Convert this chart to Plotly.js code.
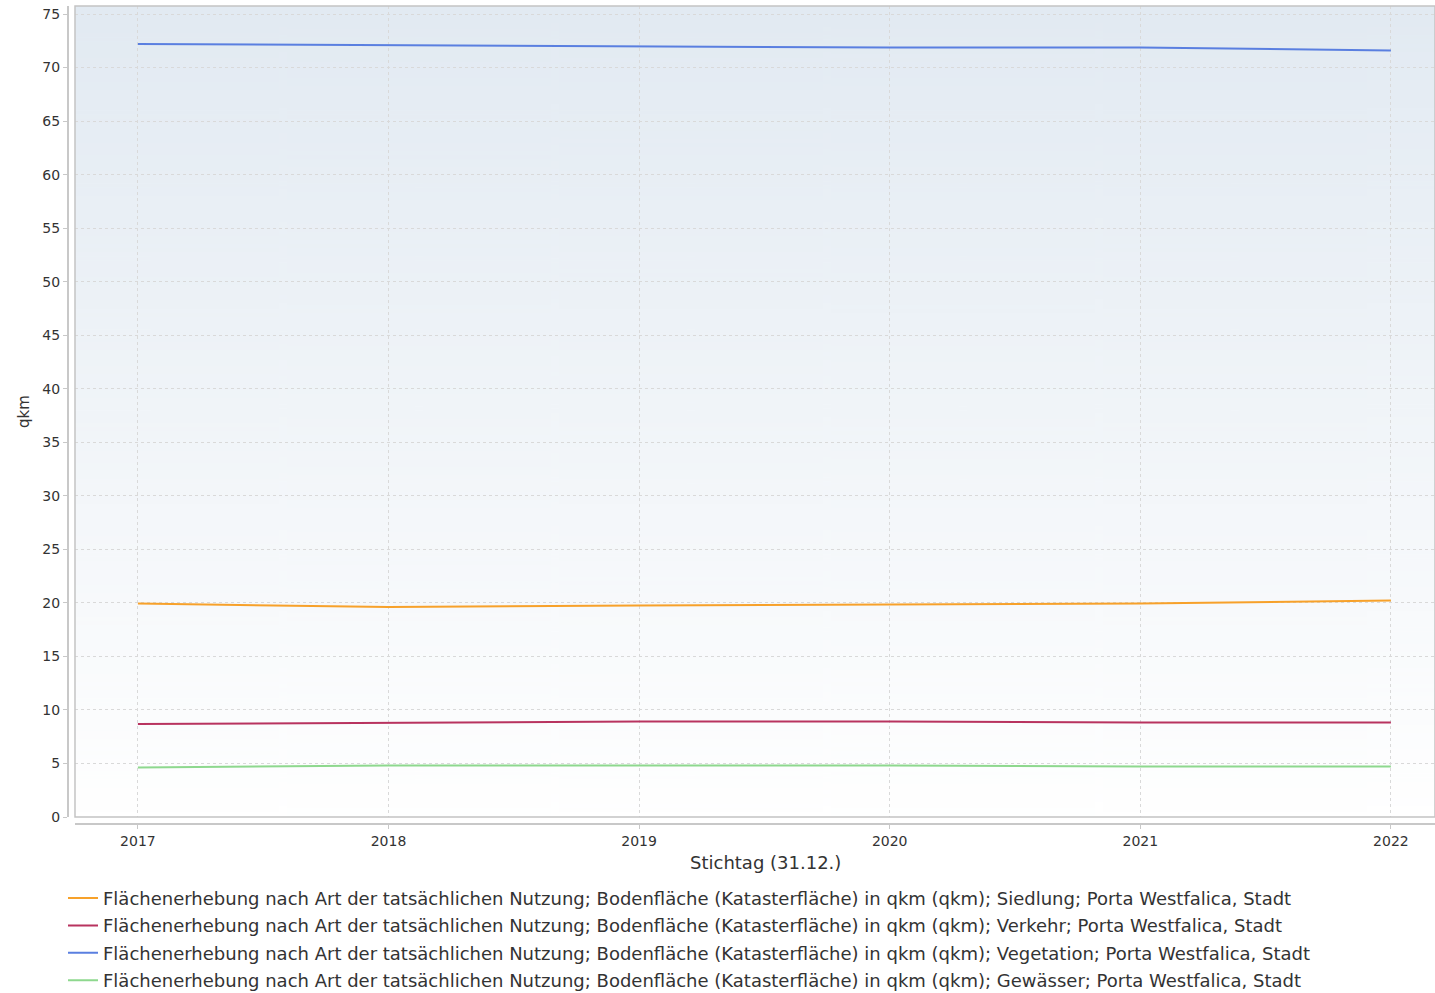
<!DOCTYPE html>
<html>
<head>
<meta charset="utf-8">
<script src="https://cdn.plot.ly/plotly-3.0.1.min.js"></script>
<style>
html,body{margin:0;padding:0;background:#fff;}
#chart{width:1435px;height:993px;}
</style>
</head>
<body>
<div id="chart"></div>
<script>
const years = [2017, 2018, 2019, 2020, 2021, 2022];
const siedlung = [19.94, 19.61, 19.75, 19.85, 19.94, 20.22];
const verkehr = [8.69, 8.83, 8.92, 8.92, 8.83, 8.83];
const vegetation = [72.2, 72.1, 71.96, 71.87, 71.87, 71.59];
const gewaesser = [4.62, 4.81, 4.81, 4.81, 4.72, 4.72];
const seriesNames = [
  "Flächenerhebung nach Art der tatsächlichen Nutzung; Bodenfläche (Katasterfläche) in qkm (qkm); Siedlung; Porta Westfalica, Stadt",
  "Flächenerhebung nach Art der tatsächlichen Nutzung; Bodenfläche (Katasterfläche) in qkm (qkm); Verkehr; Porta Westfalica, Stadt",
  "Flächenerhebung nach Art der tatsächlichen Nutzung; Bodenfläche (Katasterfläche) in qkm (qkm); Vegetation; Porta Westfalica, Stadt",
  "Flächenerhebung nach Art der tatsächlichen Nutzung; Bodenfläche (Katasterfläche) in qkm (qkm); Gewässer; Porta Westfalica, Stadt"
];
const colors = ["#f7a12a", "#b8335f", "#5a7fe0", "#8ed88e"];
const yTicks = [0,5,10,15,20,25,30,35,40,45,50,55,60,65,70,75];
const xTitle = "Stichtag (31.12.)";
const yTitle = "qkm";

// gradient background image
const cv = document.createElement('canvas');
cv.width = 10; cv.height = 400;
const ctx = cv.getContext('2d');
const g = ctx.createLinearGradient(0,0,0,400);
g.addColorStop(0, '#e2eaf2');
g.addColorStop(1, '#ffffff');
ctx.fillStyle = g; ctx.fillRect(0,0,10,400);
const bgURL = cv.toDataURL();

const series = [siedlung, verkehr, vegetation, gewaesser];
const traces = series.map((s, i) => ({
  x: years, y: s, type: 'scatter', mode: 'lines', name: seriesNames[i],
  legendgroup: 'g' + i,
  line: {color: colors[i], width: 2}
}));

const font = "DejaVu Sans, sans-serif";
const layout = {
  width: 1435, height: 993,
  margin: {l: 68, r: 0, t: 6, b: 169},
  paper_bgcolor: '#ffffff',
  plot_bgcolor: 'rgba(0,0,0,0)',
  font: {family: font, color: '#333333', size: 14},
  showlegend: true,
  xaxis: {
    domain: [0.00512, 1],
    anchor: 'free', position: 0,
    range: [2016.749, 2022.176],
    tickvals: years, ticktext: years.map(String),
    ticks: 'outside', ticklen: 4, tickcolor: '#c8c8c8',
    showline: true, linecolor: '#c8c8c8', linewidth: 2,
    showgrid: true, gridcolor: '#d9d9d9', griddash: '3px,3px', gridwidth: 1,
    zeroline: false,
    tickfont: {size: 14, color: '#333333', family: font}
  },
  yaxis: {
    domain: [0.00856, 1],
    anchor: 'free', position: 0,
    range: [0, 75.75],
    tickvals: yTicks,
    ticks: 'outside', ticklen: 4, tickcolor: '#c8c8c8',
    showline: true, linecolor: '#c8c8c8', linewidth: 2,
    showgrid: true, gridcolor: '#d9d9d9', griddash: '3px,3px', gridwidth: 1,
    zeroline: false,
    tickfont: {size: 14, color: '#333333', family: font},
    title: {text: yTitle, font: {size: 15, color: '#333333', family: font}, standoff: 8}
  },
  annotations: [{
    text: xTitle, xref: 'paper', yref: 'paper',
    x: 0.5099, y: -0.0465, xanchor: 'center', yanchor: 'middle',
    showarrow: false, font: {size: 18, color: '#333333', family: font}
  }],
  legend: {
    xref: 'paper', yref: 'container',
    x: -0.00366, xanchor: 'left', y: 0.114, yanchor: 'top',
    font: {size: 18, color: '#333333', family: font},
    bgcolor: 'rgba(0,0,0,0)', traceorder: 'grouped', tracegroupgap: 1, itemwidth: 30
  },
  images: [{
    source: bgURL, xref: 'paper', yref: 'paper',
    x: 0.00512, y: 1, sizex: 0.99488, sizey: 0.99144,
    xanchor: 'left', yanchor: 'top', sizing: 'stretch', layer: 'below'
  }],
  shapes: [{
    type: 'rect', xref: 'paper', yref: 'paper',
    x0: 0.00512, x1: 1, y0: 0.00856, y1: 1,
    line: {color: '#c4c4c4', width: 1.5}, fillcolor: 'rgba(0,0,0,0)', layer: 'above'
  }]
};

Plotly.newPlot('chart', traces, layout, {displayModeBar: false, staticPlot: true});
</script>
</body>
</html>
